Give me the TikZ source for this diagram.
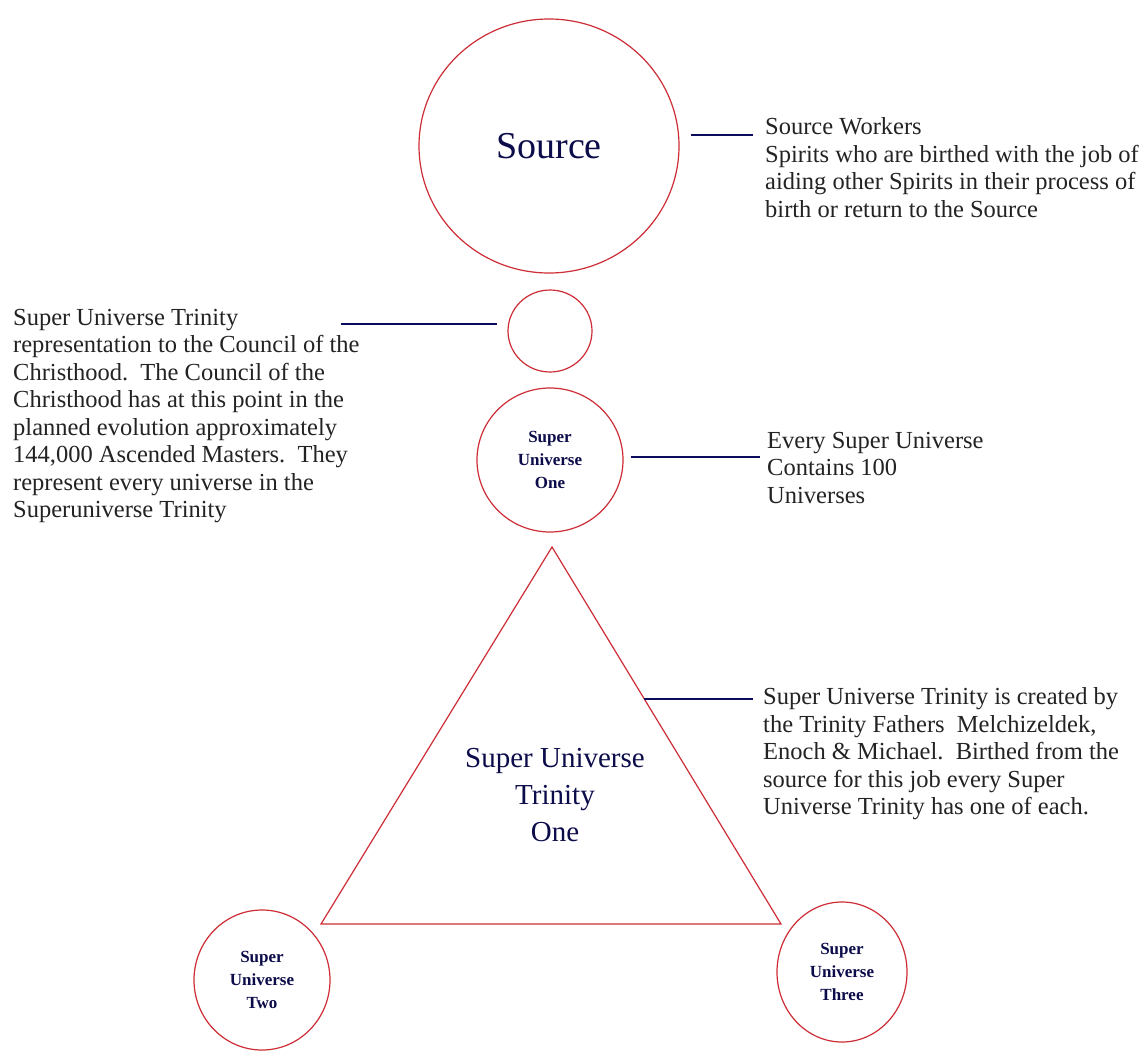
\documentclass[tikz,border=0pt]{standalone}
\usepackage{fontspec}
\setmainfont{Liberation Serif}
\usetikzlibrary{shapes.geometric}
\definecolor{ringred}{RGB}{205,45,55}
\definecolor{leadblue}{RGB}{12,12,95}
\definecolor{inkblue}{RGB}{12,12,75}
\definecolor{notegray}{RGB}{35,35,35}
\tikzset{
  ring/.style={ellipse, draw=ringred, line width=1.2pt, inner sep=0pt, text=inkblue},
  lead/.style={draw=leadblue, line width=2.6pt},
  note/.style={anchor=north west, inner sep=0pt, align=left, text=notegray,
    font=\fontsize{24.5}{27.5}\selectfont},
  sulabel/.style={align=center, font=\fontsize{17}{23}\selectfont\bfseries},
}
\begin{document}
\begin{tikzpicture}[x=1pt, y=-1pt]
\useasboundingbox[fill=white] (0,0) rectangle (1147,1052);

\node[ring, minimum width=260pt, minimum height=254pt,
  font=\fontsize{38}{40}\selectfont] (source) at (549,146) {Source};
\node[ring, minimum width=84pt, minimum height=82pt] (rep) at (550,331) {};
\node[ring, sulabel, minimum width=146pt, minimum height=144pt] (suone) at (550,460) {Super\\Universe\\One};
\node[ring, sulabel, minimum width=136pt, minimum height=140pt] (sutwo) at (262,980) {Super\\Universe\\Two};
\node[ring, sulabel, minimum width=130pt, minimum height=140pt] (suthree) at (842,972) {Super\\Universe\\Three};

\coordinate (apex) at (552,547);
\coordinate (triL) at (321,924);
\coordinate (triR) at (781,924);
\draw[ringred, line width=1.2pt, line join=miter] (apex) -- (triL) -- (triR) -- cycle;
\node[text=inkblue, align=center, font=\fontsize{29}{37}\selectfont] (trinity) at (555,795)
  {Super Universe\\Trinity\\One};

\node[note] (srcnote) at (765,117.6) {Source Workers\\Spirits who are birthed with the job of\\aiding other Spirits in their process of\\birth or return to the Source};
\node[note] (repnote) at (13,308.6) {Super Universe Trinity\\representation to the Council of the\\Christhood.\enspace The Council of the\\Christhood has at this point in the\\planned evolution approximately\\144,000 Ascended Masters.\enspace They\\represent every universe in the\\Superuniverse Trinity};
\node[note] (onenote) at (767,431.6) {Every Super Universe\\Contains 100\\Universes};
\node[note] (trinote) at (763,687.6) {Super Universe Trinity is created by\\the Trinity Fathers\enspace Melchizeldek,\\Enoch \& Michael.\enspace Birthed from the\\source for this job every Super\\Universe Trinity has one of each.};

\path (source.east) ++(11pt,11pt) coordinate (srcS);
\path (srcnote.west |- srcS) ++(-12pt,0pt) coordinate (srcE);
\draw[lead] (srcS) -- (srcE);

\path (rep.west) ++(-10pt,7pt) coordinate (repE);
\path (repE) ++(-156pt,0pt) coordinate (repS);
\draw[lead] (repS) -- (repE);

\path (suone.east) ++(7pt,3pt) coordinate (oneS);
\path (onenote.west |- oneS) ++(-7pt,0pt) coordinate (oneE);
\draw[lead] (oneS) -- (oneE);

\path (apex) -- (triR) coordinate[pos=0.403] (triS);
\path (trinote.west |- triS) ++(-10pt,0pt) coordinate (triE);
\draw[lead] (triS) -- (triE);
\end{tikzpicture}
\end{document}
